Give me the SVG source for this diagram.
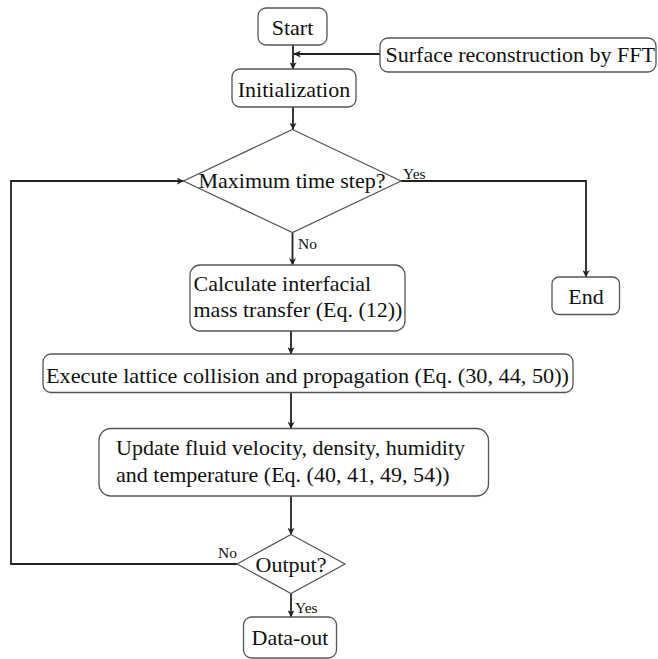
<svg xmlns="http://www.w3.org/2000/svg" width="658" height="659" viewBox="0 0 658 659">
<style>
.box{fill:#fff;stroke:#555;stroke-width:1.3}
.dia{fill:#fff;stroke:#555;stroke-width:1.2}
.t{font-family:"Liberation Serif","Times New Roman",serif;font-size:22px;fill:#111}
.s{font-family:"Liberation Serif","Times New Roman",serif;font-size:15.5px;fill:#111}
.c{fill:none;stroke:#222;stroke-width:1.8}
</style>
<defs>
<marker id="ah" viewBox="0 0 10 10" refX="9.5" refY="5" markerWidth="7" markerHeight="7" orient="auto" markerUnits="userSpaceOnUse">
<path d="M0,0 L10,5 L0,10 L2.5,5 z" fill="#222"/>
</marker>
</defs>
<rect width="658" height="659" fill="#fff"/>
<g id="connectors">
<path class="c" d="M293,45 V69" marker-end="url(#ah)"/>
<path class="c" d="M380,54 H294" marker-end="url(#ah)"/>
<path class="c" d="M293,107 V129.5" marker-end="url(#ah)"/>
<path class="c" d="M292.5,233 V265" marker-end="url(#ah)"/>
<path class="c" d="M401,181 H586 V277" marker-end="url(#ah)"/>
<path class="c" d="M291,331 V354" marker-end="url(#ah)"/>
<path class="c" d="M291,392.5 V428.5" marker-end="url(#ah)"/>
<path class="c" d="M291,496 V534.5" marker-end="url(#ah)"/>
<path class="c" d="M237,564 H11 V181 H183.5" marker-end="url(#ah)"/>
<path class="c" d="M291,593.5 V617" marker-end="url(#ah)"/>
</g>
<g id="start">
<rect class="box" x="258" y="8" width="69" height="37" rx="8"/>
<text class="t" x="292.5" y="35" text-anchor="middle">Start</text>
</g>
<g id="surface">
<rect class="box" x="380" y="38" width="276" height="34" rx="8"/>
<text class="t" x="385.5" y="61.5">Surface reconstruction by FFT</text>
</g>
<g id="init">
<rect class="box" x="232" y="69" width="124" height="38" rx="8"/>
<text class="t" x="294" y="96.5" text-anchor="middle">Initialization</text>
</g>
<g id="maxstep">
<polygon class="dia" points="292.5,129.5 401,181 292.5,232.5 183.5,181"/>
<text class="t" x="292" y="188" text-anchor="middle">Maximum time step?</text>
<text class="s" x="403" y="179">Yes</text>
<text class="s" x="298" y="248.5">No</text>
</g>
<g id="calc">
<rect class="box" x="190" y="265" width="215" height="66" rx="10"/>
<text class="t" x="193.5" y="290.5">Calculate interfacial</text>
<text class="t" x="193.5" y="317">mass transfer (Eq. (12))</text>
</g>
<g id="end">
<rect class="box" x="552" y="277" width="67.5" height="37.5" rx="7"/>
<text class="t" x="586" y="303.5" text-anchor="middle">End</text>
</g>
<g id="execute">
<rect class="box" x="43" y="354" width="530" height="38.5" rx="8"/>
<text class="t" x="46" y="383" textLength="523" lengthAdjust="spacingAndGlyphs">Execute lattice collision and propagation (Eq. (30, 44, 50))</text>
</g>
<g id="update">
<rect class="box" x="99" y="428.5" width="389.5" height="67.5" rx="12"/>
<text class="t" x="116" y="455">Update fluid velocity, density, humidity</text>
<text class="t" x="116" y="482">and temperature (Eq. (40, 41, 49, 54))</text>
</g>
<g id="output">
<polygon class="dia" points="291,534.5 345,564 291,593.5 237,564"/>
<text class="t" x="291" y="571.5" text-anchor="middle">Output?</text>
<text class="s" x="218" y="558">No</text>
<text class="s" x="295" y="612.5">Yes</text>
</g>
<g id="dataout">
<rect class="box" x="243.5" y="617" width="93" height="41" rx="8"/>
<text class="t" x="290" y="645" text-anchor="middle">Data-out</text>
</g>
</svg>
